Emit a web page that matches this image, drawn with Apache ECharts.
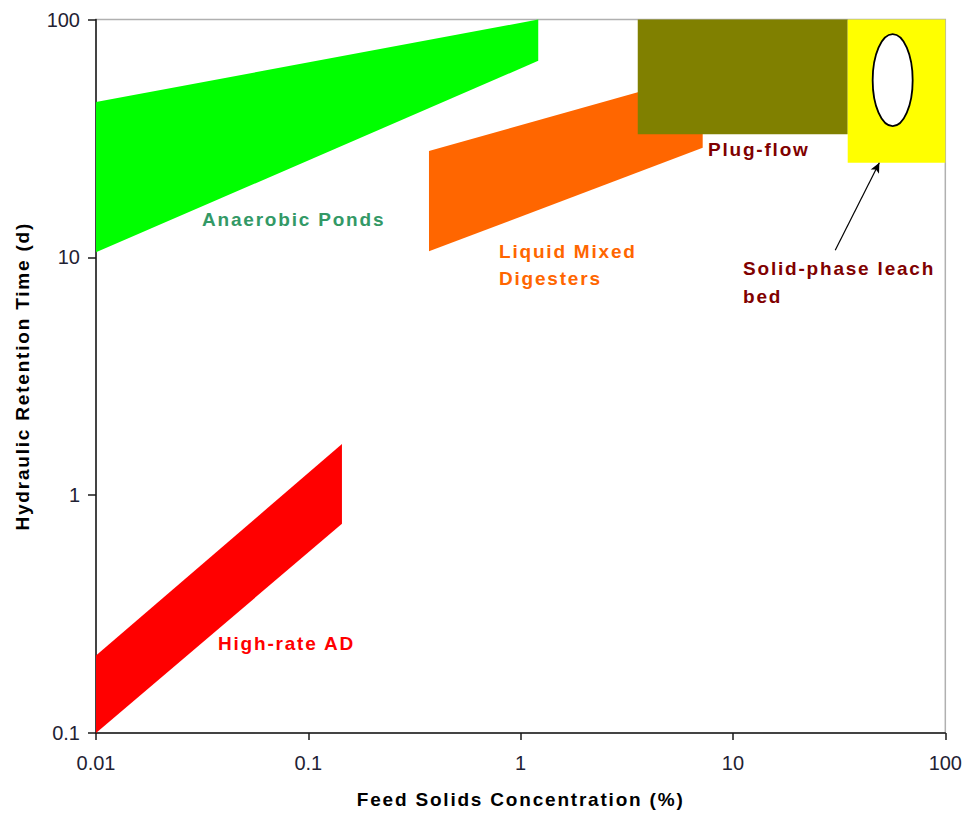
<!DOCTYPE html>
<html>
<head>
<meta charset="utf-8">
<title>Hydraulic Retention Time vs Feed Solids Concentration</title>
<script src="https://cdn.jsdelivr.net/npm/echarts@6/dist/echarts.min.js"></script>
<style>
  html, body { margin: 0; padding: 0; background: #fff; }
  #chart { width: 965px; height: 814px; }
  /* the bold captions are set with a little extra tracking */
  #chart text[style*="bold"] { letter-spacing: 1.8px; }
</style>
</head>
<body>
<div id="chart"></div>
<script>
// Axis ticks (log scale, one per decade)
const xTickLabels = ['0.01', '0.1', '1', '10', '100'];
const yTickLabels = ['0.1', '1', '10', '100'];

// Operating envelopes: [feed solids %, HRT d] corner points
const anaerobicPonds = [[0.01, 45], [1.21, 100], [1.21, 67], [0.01, 10.5]];
const liquidMixedDigesters = [[0.37, 28], [7.2, 59], [7.2, 28.9], [0.37, 10.6]];
const highRateAD = [[0.01, 0.212], [0.144, 1.64], [0.144, 0.758], [0.01, 0.1]];
const plugFlow = [[3.56, 100], [34.7, 100], [34.7, 32.9], [3.56, 32.9]];
const solidPhaseLeachBed = [[34.7, 100], [100, 100], [100, 25], [34.7, 25]];

// Oval marker inside the leach-bed box and the pointer arrow to it
const leachBedMarker = [[56.5, 55.6]];
const leachBedArrow = [[30.3, 10.7], [48.9, 25]];

const chart = echarts.init(document.getElementById('chart'), null, { renderer: 'svg' });

function regionSeries(name, points, color) {
  return {
    name: name,
    type: 'custom',
    silent: true,
    animation: false,
    data: points,
    renderItem: function (params, api) {
      if (params.dataIndex !== 0) return null;
      return {
        type: 'polygon',
        shape: { points: points.map(function (p) { return api.coord(p); }) },
        style: { fill: color, stroke: null }
      };
    }
  };
}

const boldFont = 'Liberation Sans, Arial, sans-serif';

function caption(text, x, y, color, lineHeight) {
  return {
    type: 'text',
    x: x,
    y: y,
    silent: true,
    style: {
      text: text,
      fill: color,
      fontSize: 19,
      fontWeight: 'bold',
      fontFamily: boldFont,
      lineHeight: lineHeight || 19,
      textAlign: 'left',
      textVerticalAlign: 'top'
    }
  };
}

const option = {
  backgroundColor: '#fff',
  animation: false,
  grid: {
    left: 96, right: 19, top: 19.5, bottom: 78.5,
    show: true, borderColor: '#b0b0b0', borderWidth: 1.5,
    backgroundColor: 'transparent'
  },
  xAxis: {
    type: 'log', logBase: 10, min: 0.01, max: 100, interval: 1,
    name: 'Feed Solids Concentration (%)',
    nameLocation: 'middle', nameGap: 57,
    nameTextStyle: { color: '#000', fontSize: 19, fontWeight: 'bold', fontFamily: boldFont },
    axisLine: { show: true, lineStyle: { color: '#1a1a1a', width: 1.5 } },
    axisTick: { show: true, length: 7, lineStyle: { color: '#1a1a1a', width: 1.5 } },
    minorTick: { show: false },
    splitLine: { show: false },
    axisLabel: {
      margin: 20, fontSize: 20, color: '#1f2233', fontFamily: 'Liberation Sans, Arial, sans-serif',
      formatter: function (v) { return xTickLabels[Math.round(Math.log10(v)) + 2]; }
    }
  },
  yAxis: {
    type: 'log', logBase: 10, min: 0.1, max: 100, interval: 1,
    name: 'Hydraulic Retention Time (d)',
    nameLocation: 'middle', nameGap: 64,
    nameTextStyle: { color: '#000', fontSize: 19, fontWeight: 'bold', fontFamily: boldFont },
    axisLine: { show: true, lineStyle: { color: '#1a1a1a', width: 1.5 } },
    axisTick: { show: true, length: 8, lineStyle: { color: '#1a1a1a', width: 1.5 } },
    minorTick: { show: false },
    splitLine: { show: false },
    axisLabel: {
      margin: 16, fontSize: 20, color: '#1f2233', fontFamily: 'Liberation Sans, Arial, sans-serif',
      formatter: function (v) { return yTickLabels[Math.round(Math.log10(v)) + 1]; }
    }
  },
  series: [
    regionSeries('Anaerobic Ponds', anaerobicPonds, '#00FF00'),
    regionSeries('Liquid Mixed Digesters', liquidMixedDigesters, '#FF6600'),
    regionSeries('High-rate AD', highRateAD, '#FF0000'),
    regionSeries('Plug-flow', plugFlow, '#808000'),
    regionSeries('Solid-phase leach bed', solidPhaseLeachBed, '#FFFF00'),
    {
      name: 'Leach bed marker',
      type: 'custom',
      silent: true,
      animation: false,
      data: leachBedMarker,
      renderItem: function (params, api) {
        const c = api.coord([api.value(0), api.value(1)]);
        return {
          type: 'ellipse',
          shape: { cx: c[0], cy: c[1], rx: 20, ry: 46 },
          style: { fill: '#fff', stroke: '#000', lineWidth: 1.8 }
        };
      },
      markLine: {
        silent: true,
        animation: false,
        symbol: ['none', 'arrow'],
        symbolSize: [7, 10],
        label: { show: false },
        lineStyle: { color: '#000', width: 1.2, type: 'solid' },
        data: [[{ coord: leachBedArrow[0] }, { coord: leachBedArrow[1] }]]
      }
    }
  ],
  graphic: [
    caption('Anaerobic Ponds', 202, 210, '#339966'),
    caption('Liquid Mixed\nDigesters', 499, 238, '#FF6600', 27),
    caption('High-rate AD', 218, 634, '#FF0000'),
    caption('Plug-flow', 708, 140, '#800000'),
    caption('Solid-phase leach\nbed', 743, 254, '#800000', 28)
  ]
};

chart.setOption(option);
</script>
</body>
</html>
